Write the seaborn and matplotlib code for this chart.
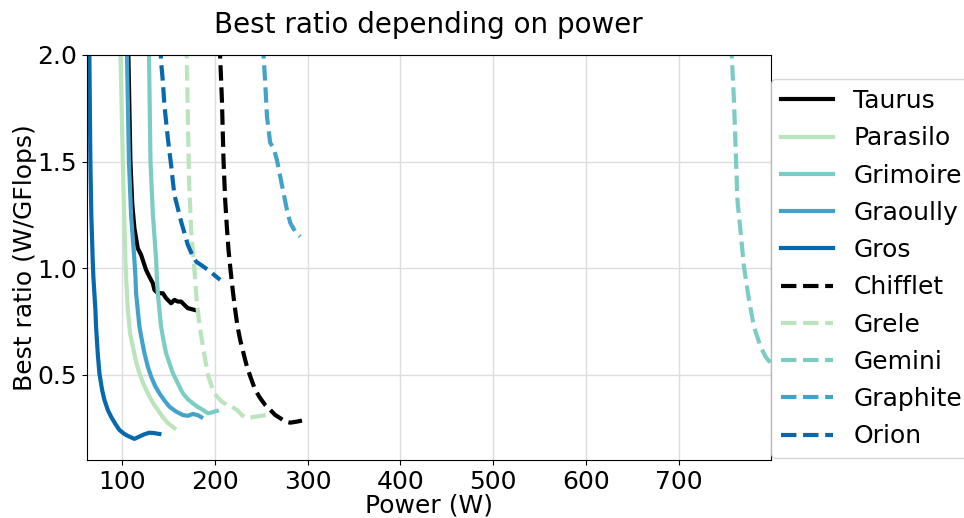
import matplotlib
matplotlib.use("Agg")
import matplotlib.pyplot as plt
import seaborn as sns
import pandas as pd

# ---- data ----
names = ["Taurus", "Parasilo", "Grimoire", "Graoully", "Gros",
         "Chifflet", "Grele", "Gemini", "Graphite", "Orion"]

taurus_x = [106.6, 107.1, 109.3, 111.3, 113.6, 117.2, 120.8, 122.6, 126.2, 129.7, 133.4, 135.1,
            138.8, 144.2, 147.7, 153.1, 156.7, 160.3, 163.9, 167.5, 171.1, 178.2]
taurus_y = [2.40, 2.00, 1.50, 1.30, 1.187, 1.093, 1.062, 1.038, 0.991, 0.960, 0.929, 0.898,
            0.882, 0.882, 0.859, 0.835, 0.851, 0.843, 0.843, 0.827, 0.812, 0.804]

parasilo_x = [97.6, 98.6, 101.1, 102.6, 103.9, 104.6, 106.5, 108.9, 111.9, 115.4, 119.0, 123.3,
              128.0, 133.4, 138.8, 144.2, 149.6, 156.7]
parasilo_y = [2.40, 2.00, 1.50, 1.25, 1.038, 0.960, 0.804, 0.695, 0.632, 0.561, 0.507, 0.457,
              0.413, 0.369, 0.335, 0.301, 0.273, 0.249]

grimoire_x = [128.6, 129.3, 130.9, 133.5, 137.0, 137.7, 138.8, 140.5, 142.3, 144.8, 147.7, 151.3,
              155.0, 160.3, 165.7, 171.1, 176.5, 181.9, 187.3, 192.7, 196.2, 199.8, 202.4]
grimoire_y = [2.40, 2.00, 1.50, 1.25, 1.038, 0.960, 0.882, 0.804, 0.726, 0.663, 0.601, 0.554,
              0.507, 0.460, 0.413, 0.385, 0.366, 0.348, 0.335, 0.319, 0.322, 0.327, 0.330]

graoully_x = [104.9, 105.6, 107.7, 110.0, 113.6, 114.7, 115.4, 117.2, 119.0, 121.6, 124.4, 128.0,
              131.6, 135.9, 140.5, 145.9, 151.3, 158.5, 165.7, 171.1, 176.5, 181.9, 185.5]
graoully_y = [2.40, 2.00, 1.50, 1.25, 1.038, 0.960, 0.882, 0.804, 0.726, 0.663, 0.601, 0.538,
              0.491, 0.447, 0.413, 0.379, 0.350, 0.327, 0.311, 0.307, 0.316, 0.310, 0.301]

gros_x = [63.8, 65.1, 66.2, 67.2, 68.7, 69.4, 70.5, 71.6, 72.3, 74.1, 75.9, 78.8, 81.3, 84.9,
          88.5, 93.1, 97.4, 102.8, 106.5, 113.6, 119.0, 124.0, 129.7, 135.1, 140.5]
gros_y = [2.40, 2.00, 1.50, 1.25, 1.038, 0.960, 0.882, 0.804, 0.726, 0.601, 0.507, 0.429, 0.382,
          0.335, 0.303, 0.269, 0.241, 0.222, 0.213, 0.199, 0.210, 0.220, 0.228, 0.226, 0.222]

chifflet_x = [205.4, 205.9, 207.8, 209.5, 211.3, 213.1, 214.9, 216.7, 218.6, 220.3, 222.1, 224.6,
              227.5, 231.0, 234.7, 239.0, 243.6, 249.0, 254.4, 259.8, 265.2, 270.6, 276.0, 281.4,
              288.6, 294.0]
chifflet_y = [2.40, 1.992, 1.789, 1.508, 1.320, 1.195, 1.085, 1.007, 0.929, 0.866, 0.804, 0.726,
              0.663, 0.601, 0.538, 0.484, 0.429, 0.390, 0.358, 0.335, 0.311, 0.296, 0.280, 0.275,
              0.280, 0.285]

grele_x = [169.6, 170.0, 171.1, 172.5, 175.0, 178.0, 180.6, 183.4, 186.2, 189.8, 193.3, 198.1,
           202.4, 207.8, 213.1, 218.5, 223.9, 229.3, 234.7, 240.0, 245.5, 250.9, 256.3]
grele_y = [2.40, 1.977, 1.711, 1.398, 1.150, 1.007, 0.851, 0.742, 0.663, 0.569, 0.491, 0.429,
           0.397, 0.374, 0.358, 0.350, 0.335, 0.311, 0.296, 0.300, 0.304, 0.308, 0.311]

gemini_x = [755.8, 756.6, 759.0, 760.9, 762.7, 766.3, 769.8, 775.2, 780.6, 787.8, 793.2, 798.6]
gemini_y = [2.40, 2.00, 1.789, 1.554, 1.320, 1.165, 1.006, 0.851, 0.724, 0.630, 0.583, 0.555]

graphite_x = [251.8, 252.6, 254.4, 256.3, 259.8, 263.4, 267.0, 270.6, 274.1, 277.8, 281.4, 286.7, 292.1]
graphite_y = [2.40, 2.00, 1.869, 1.711, 1.587, 1.564, 1.508, 1.429, 1.353, 1.273, 1.212, 1.171, 1.148]

orion_x = [141.0, 141.7, 142.3, 144.2, 145.9, 147.7, 149.6, 151.3, 153.1, 155.0, 156.7, 160.3,
           163.9, 167.5, 171.1, 175.8, 180.1, 187.9, 195.1, 205.9]
orion_y = [2.40, 2.05, 1.969, 1.875, 1.765, 1.687, 1.609, 1.546, 1.484, 1.406, 1.343, 1.281,
           1.218, 1.164, 1.109, 1.062, 1.030, 1.007, 0.984, 0.945]

series_x = [taurus_x, parasilo_x, grimoire_x, graoully_x, gros_x,
            chifflet_x, grele_x, gemini_x, graphite_x, orion_x]
series_y = [taurus_y, parasilo_y, grimoire_y, graoully_y, gros_y,
            chifflet_y, grele_y, gemini_y, graphite_y, orion_y]

colors = ["#000000", "#bae4bc", "#7bccc4", "#43a2ca", "#0868ac"] * 2
styles = ["-"] * 5 + ["--"] * 5

x_ticks = [100, 200, 300, 400, 500, 600, 700]
y_ticks = [0.5, 1.0, 1.5, 2.0]

# ---- figure ----
plt.rcParams["font.family"] = ["DejaVu Sans"]
plt.rcParams["font.size"] = 18

fig = plt.figure(figsize=(9.64, 5.18), dpi=100)
ax = fig.add_axes([0.09, 0.112, 0.7095, 0.782])

for name, xs, ys, c, ls in zip(names, series_x, series_y, colors, styles):
    df = pd.DataFrame({"Power (W)": xs, "ratio": ys})
    sns.lineplot(data=df, x="Power (W)", y="ratio", ax=ax, color=c,
                 linestyle=ls, linewidth=3, label=name,
                 sort=False, estimator=None)

ax.set_xlim(62.3, 798.6)
ax.set_ylim(0.1, 2.0)
ax.set_xticks(x_ticks)
ax.set_yticks(y_ticks)
ax.tick_params(labelsize=18)
ax.grid(True, color="#dddddd", linewidth=1)
ax.set_axisbelow(True)
ax.set_xlabel("Power (W)", fontsize=18, labelpad=0)
ax.set_ylabel("Best ratio (W/GFlops)", fontsize=18, labelpad=0)
ax.set_title("Best ratio depending on power", fontsize=20, pad=16)

ax.legend(loc="upper left", bbox_to_anchor=(1.0, 0.94), fontsize=18,
          frameon=True, fancybox=True, labelspacing=0.53, borderaxespad=0,
          borderpad=0.4, handlelength=2.1)

fig.savefig("out.png", dpi=100)
